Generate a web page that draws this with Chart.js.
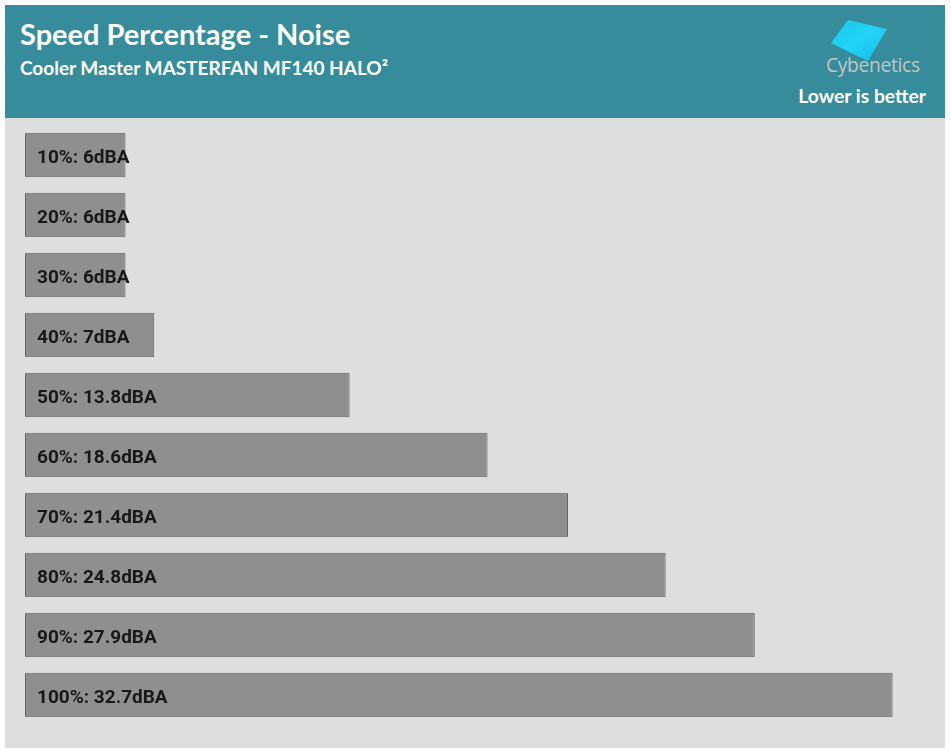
<!DOCTYPE html>
<html>
<head>
<meta charset="utf-8">
<script src="https://cdn.jsdelivr.net/npm/chart.js@4/dist/chart.umd.min.js"></script>
<style>
  html, body { margin: 0; padding: 0; background: #ffffff; }
  body { width: 951px; height: 753px; position: relative; overflow: hidden; font-family: Lato, "Open Sans", sans-serif; }
  #header { position: absolute; left: 5px; top: 5px; width: 940px; height: 113px; background: #368c9b; }
  #title { position: absolute; left: 15px; top: 11px; color: #fff; font: bold 29px Lato, sans-serif; white-space: nowrap; }
  #subtitle { position: absolute; left: 15px; top: 51px; color: #fff; font: bold 19px Lato, sans-serif; white-space: nowrap; }
  #lower { position: absolute; right: 19px; top: 79px; color: #fff; font: bold 19.3px Lato, sans-serif; white-space: nowrap; }
  #logoText { position: absolute; left: 821px; top: 46px; color: #c4c4c4; font: 19.2px "Open Sans", Lato, sans-serif; letter-spacing: -0.3px; white-space: nowrap; }
  #logo { position: absolute; left: 820px; top: 7px; }
  #panel { position: absolute; left: 5px; top: 118px; width: 940px; height: 630px; background: #dedede; }
  #chart { position: absolute; left: 0; top: 0; }
</style>
</head>
<body>
<div id="header">
  <div id="title">Speed Percentage - Noise</div>
  <div id="subtitle">Cooler Master MASTERFAN MF140 HALO²</div>
  <svg id="logo" width="80" height="60" viewBox="0 0 80 60">
    <defs>
      <linearGradient id="g" x1="0" y1="0" x2="1" y2="1">
        <stop offset="0" stop-color="#19c6ea"/>
        <stop offset="0.5" stop-color="#22d4f6"/>
        <stop offset="1" stop-color="#1bb5e3"/>
      </linearGradient>
    </defs>
    <polygon points="23,8 62,17 43,49 6,31" fill="url(#g)"/>
  </svg>
  <div id="logoText">Cybenetics</div>
  <div id="lower">Lower is better</div>
</div>
<div id="panel"><canvas id="chart" width="940" height="630"></canvas></div>
<script>
const categories = ["10%", "20%", "30%", "40%", "50%", "60%", "70%", "80%", "90%", "100%"];
const noiseValues = [6, 6, 6, 7, 13.8, 18.6, 21.4, 24.8, 27.9, 32.7];
const unit = "dBA";

const labelPlugin = {
  id: 'barLabels',
  afterDatasetsDraw(chart) {
    const ctx = chart.ctx;
    const meta = chart.getDatasetMeta(0);
    ctx.save();
    ctx.font = 'bold 19px Roboto, sans-serif';
    ctx.fillStyle = '#181818';
    ctx.textAlign = 'left';
    ctx.textBaseline = 'alphabetic';
    meta.data.forEach((bar, i) => {
      const left = Math.min(bar.x, bar.base);
      ctx.fillText(categories[i] + ': ' + noiseValues[i] + unit, left + 12, bar.y + 8);
    });
    ctx.restore();
  }
};

new Chart(document.getElementById('chart'), {
  type: 'bar',
  data: {
    labels: categories,
    datasets: [{
      data: noiseValues,
      base: 2.5,
      backgroundColor: '#8f8f8f',
      borderColor: '#656565',
      borderWidth: 1,
      borderRadius: 1,
      borderSkipped: false,
      barPercentage: 0.74,
      categoryPercentage: 1.0
    }]
  },
  options: {
    indexAxis: 'y',
    responsive: false,
    animation: false,
    layout: { padding: { left: 20, right: 15, top: 7, bottom: 23 } },
    plugins: { legend: { display: false }, tooltip: { enabled: false }, title: { display: false } },
    scales: {
      x: { display: false, min: 2.5, max: 34 },
      y: { display: false }
    }
  },
  plugins: [labelPlugin]
});
</script>
</body>
</html>
